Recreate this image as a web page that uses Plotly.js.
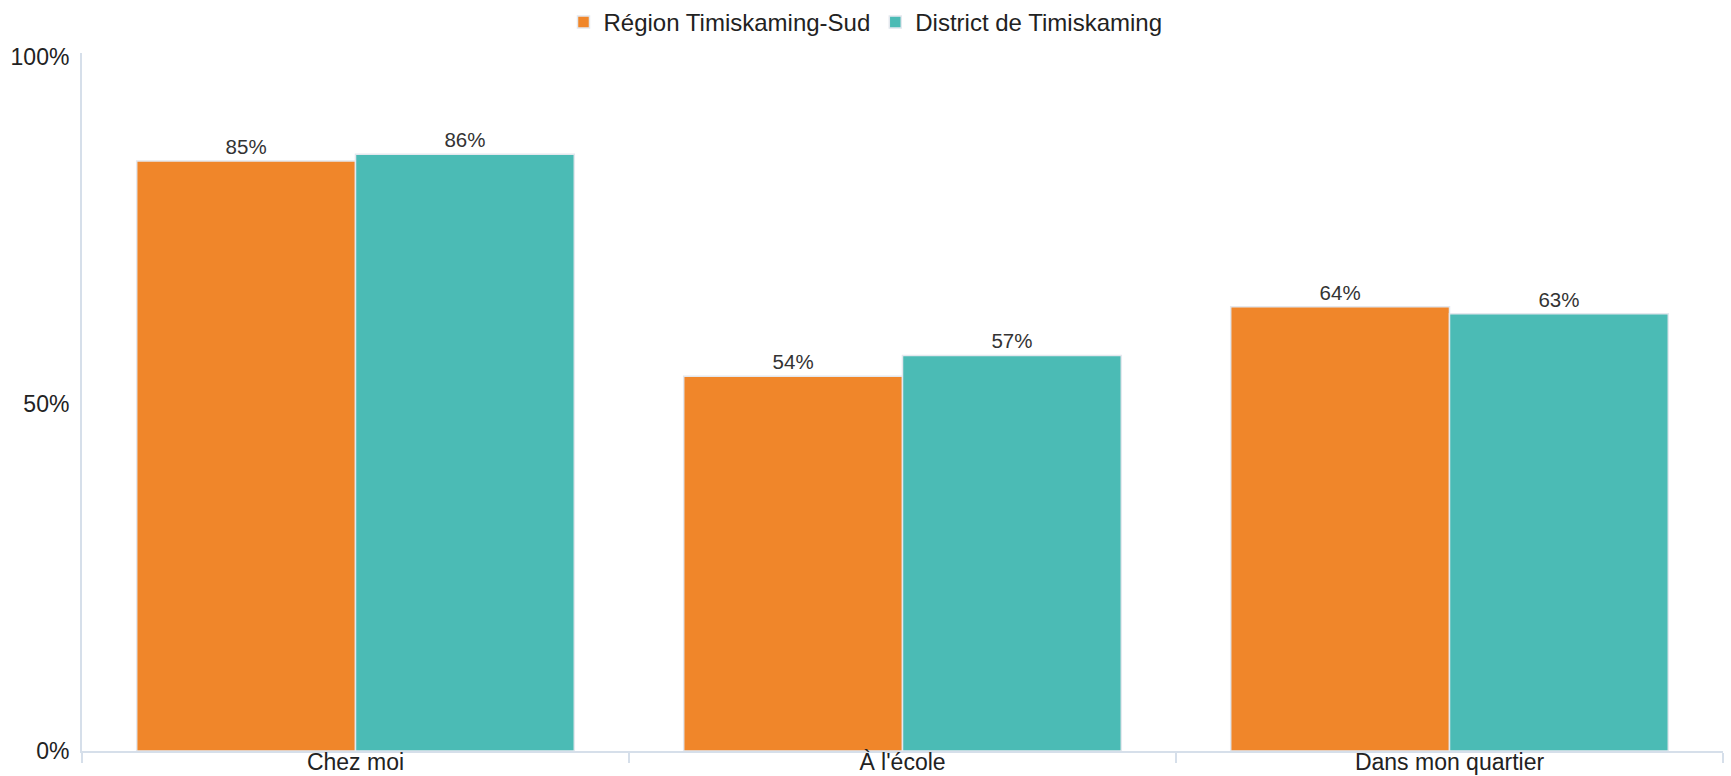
<!DOCTYPE html>
<html>
<head>
<meta charset="utf-8">
<script src="https://cdn.plot.ly/plotly-3.0.1.min.js"></script>
<style>html,body{margin:0;padding:0;background:#fff;}#chart{width:1731px;height:776px;}</style>
</head>
<body>
<div id="chart"></div>
<script>
const categories = ["Chez moi", "À l'école", "Dans mon quartier"];
const seriesNames = ["Région Timiskaming-Sud", "District de Timiskaming"];
const regionValues = [85, 54, 64];
const districtValues = [86, 57, 63];
const seriesColors = ["#F0862A", "#4BBBB5"];
const yTickVals = [0, 50, 100];
const yTickText = ["0%", "50%", "100%"];

const fontFamily = "Liberation Sans, Arial, sans-serif";

function makeTrace(name, values, color) {
  return {
    type: "bar",
    name: name,
    x: categories,
    y: values,
    text: values.map(v => v + "%"),
    textposition: "outside",
    textfont: {family: fontFamily, size: 20.5, color: "#333"},
    cliponaxis: false,
    hoverinfo: "skip",
    marker: {color: color, line: {color: "#e4e8ee", width: 1.5}}
  };
}

const data = [
  makeTrace(seriesNames[0], regionValues, seriesColors[0]),
  makeTrace(seriesNames[1], districtValues, seriesColors[1])
];

const layout = {
  width: 1731,
  height: 776,
  margin: {l: 82, r: 8, t: 53, b: 25},
  paper_bgcolor: "#fff",
  plot_bgcolor: "#fff",
  barmode: "group",
  bargap: 0.2,
  bargroupgap: 0,
  font: {family: fontFamily, size: 22, color: "#222"},
  showlegend: true,
  legend: {
    orientation: "h",
    xref: "container",
    yref: "container",
    x: 0.5,
    xanchor: "center",
    y: 1,
    yanchor: "top",
    font: {family: fontFamily, size: 24, color: "#222"},
    itemwidth: 30,
    tracegroupgap: 0
  },
  xaxis: {
    type: "category",
    showline: true,
    linecolor: "#d6dfea",
    linewidth: 2,
    ticks: "outside",
    tickson: "boundaries",
    ticklen: 10,
    tickcolor: "#d6dfea",
    tickwidth: 2,
    showgrid: false,
    ticklabelstandoff: -11,
    tickfont: {family: fontFamily, size: 23, color: "#222"}
  },
  yaxis: {
    range: [0, 100.58],
    tickvals: yTickVals,
    ticktext: yTickText,
    showline: true,
    linecolor: "#d6dfea",
    linewidth: 2,
    showgrid: false,
    zeroline: false,
    ticks: "",
    ticklabelstandoff: 6,
    tickfont: {family: fontFamily, size: 23, color: "#222"}
  }
};

Plotly.newPlot("chart", data, layout, {displayModeBar: false, staticPlot: true});
</script>
</body>
</html>
